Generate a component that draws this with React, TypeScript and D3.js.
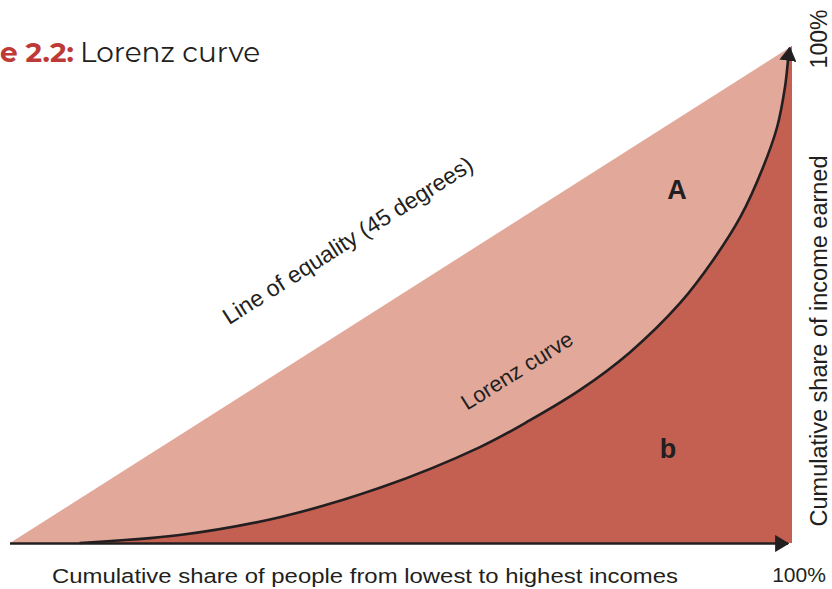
import React from "react";
import { scaleLinear, line, area, curveCatmullRom } from "d3";

// Lorenz curve: cumulative % of people vs cumulative % of income
const peopleShare = [0, 8.9, 21.7, 34.5, 47.3, 60.1, 66.5, 72.9, 79.3, 85.7, 89.9, 93.4, 96.3, 98.1, 99.1, 99.5, 99.7];
const incomeShare = [0, 0, 1.6, 5.2, 11.1, 19.3, 24.7, 30.8, 38.4, 48.3, 56.9, 65.6, 75.6, 83.7, 91.7, 97.2, 99.6];
const equality = [0, 100];
const axisLabels = ["100%", "100%"];

const W = 832;
const H = 589;

export default function App() {
  const x = scaleLinear().domain([0, 100]).range([10, 792]);
  const y = scaleLinear().domain([0, 100]).range([543, 46]);

  const pts: [number, number][] = peopleShare.map((p, i) => [p, incomeShare[i]]);
  const lorenz = pts.filter((d, i) => i > 0);
  const smooth = curveCatmullRom.alpha(0.5);

  const curveLine = line<[number, number]>()
    .x((d) => x(d[0]))
    .y((d) => y(d[1]))
    .curve(smooth);

  const darkArea = area<[number, number]>()
    .x((d) => x(d[0]))
    .y0(y(0))
    .y1((d) => y(d[1]))
    .curve(smooth);

  const tri = `M${x(equality[0])},${y(equality[0])}L${x(equality[1])},${y(equality[1])}L${x(100)},${y(0)}Z`;
  const darkPts: [number, number][] = [...pts, [100, 100]];

  const slope = (Math.atan2(y(0) - y(100), x(100) - x(0)) * 180) / Math.PI;
  const font = "'Liberation Sans', Arial, sans-serif";

  return (
    <svg width={W} height={H} style={{ position: "absolute", left: 0, top: 0, background: "#fff" }}>
      <defs>
        <marker id="arr" viewBox="0 0 10 12" refX="9" refY="6" markerWidth="5.5" markerHeight="6.6" orient="auto" markerUnits="strokeWidth">
          <path d="M0,0L10,6L0,12Z" fill="#231f20" />
        </marker>
      </defs>

      {/* title */}
      <text x={0} y={62} fontFamily="Montserrat, 'Open Sans', sans-serif" fontWeight="bold" fontSize={28} fill="#bd3a36">
        e 2.2:
      </text>
      <text x={80} y={62} fontFamily="Montserrat, 'Open Sans', sans-serif" fontSize={28} fill="#231f20">
        Lorenz curve
      </text>

      {/* areas */}
      <path d={tri} fill="#e2a99b" />
      <path d={darkArea(darkPts) || ""} fill="#c46052" />

      {/* lorenz curve */}
      <path d={curveLine(lorenz) || ""} fill="none" stroke="#231f20" strokeWidth={2.6} markerEnd="url(#arr)" />

      {/* x axis */}
      <line x1={x(0)} x2={x(100) - 4} y1={y(0) + 0.5} y2={y(0) + 0.5} stroke="#231f20" strokeWidth={2.6} markerEnd="url(#arr)" />

      {/* labels */}
      <text
        transform={`translate(352,247) rotate(${-slope})`}
        textAnchor="middle"
        fontFamily={font}
        fontSize={23}
        fill="#231f20"
      >
        Line of equality (45 degrees)
      </text>
      <text transform={`translate(521,377) rotate(-32)`} textAnchor="middle" fontFamily={font} fontSize={22} fill="#231f20">
        Lorenz curve
      </text>
      <text x={677} y={199} textAnchor="middle" fontFamily={font} fontWeight="bold" fontSize={27} fill="#231f20">
        A
      </text>
      <text x={668} y={458} textAnchor="middle" fontFamily={font} fontWeight="bold" fontSize={27} fill="#231f20">
        b
      </text>

      <text x={52} y={583} fontFamily={font} fontSize={20.5} fill="#231f20" textLength={626} lengthAdjust="spacingAndGlyphs">
        Cumulative share of people from lowest to highest incomes
      </text>
      <text x={799} y={582} textAnchor="middle" fontFamily={font} fontSize={21} fill="#231f20">
        {axisLabels[0]}
      </text>
      <text transform="translate(827,341) rotate(-90)" textAnchor="middle" fontFamily={font} fontSize={23.5} fill="#231f20">
        Cumulative share of income earned
      </text>
      <text transform="translate(827,39) rotate(-90)" textAnchor="middle" fontFamily={font} fontSize={23} fill="#231f20">
        {axisLabels[1]}
      </text>
    </svg>
  );
}
